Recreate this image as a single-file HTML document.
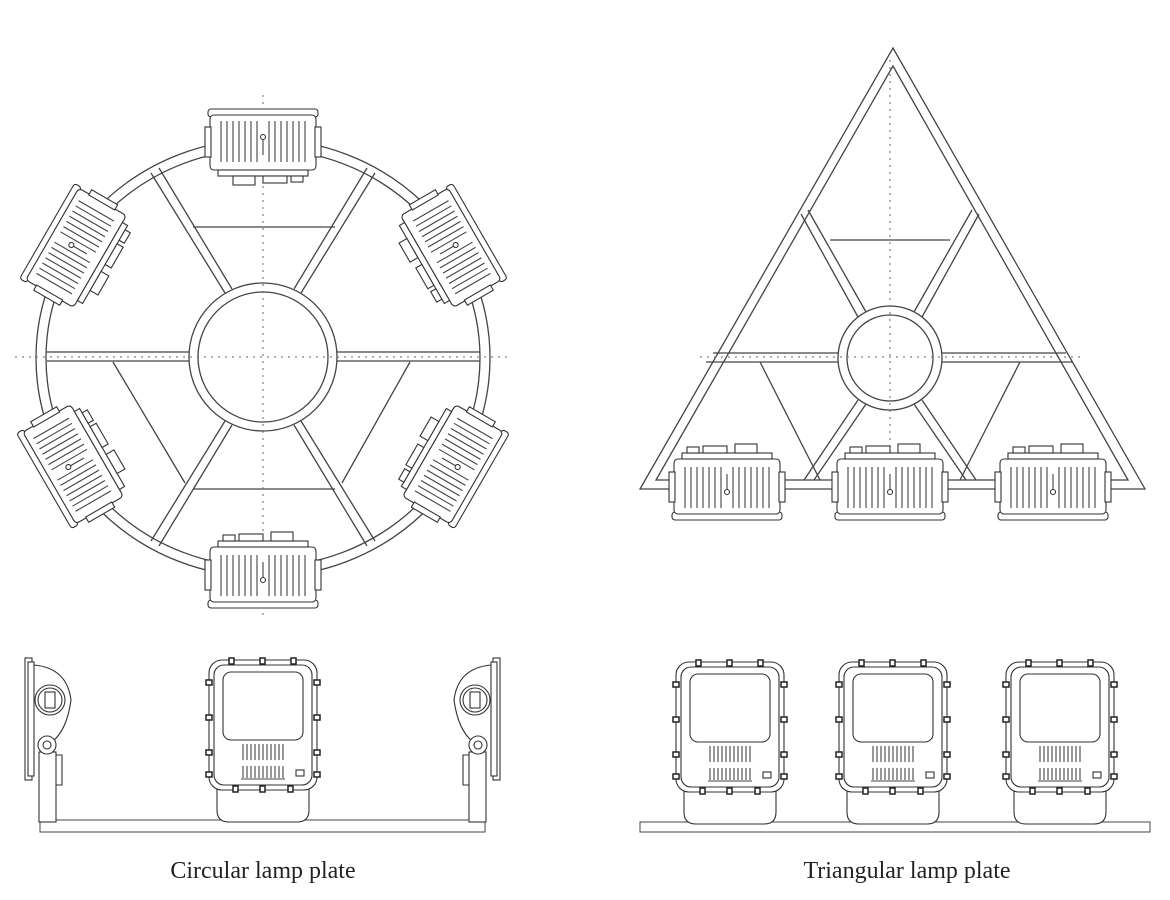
<!DOCTYPE html>
<html><head><meta charset="utf-8"><style>
html,body{margin:0;padding:0;background:#fff;}
svg{display:block;}
text{font-family:"Liberation Serif",serif;font-size:24px;fill:#222;}
</style></head><body>
<svg width="1170" height="900" viewBox="0 0 1170 900" xmlns="http://www.w3.org/2000/svg">
<defs>
<g id="top" fill="#fff" stroke="#333" stroke-width="1.1">
  <rect x="-55" y="-38" width="110" height="8" rx="3"/>
  <rect x="-53" y="-32" width="106" height="55" rx="4"/>
  <rect x="-58" y="-20" width="6" height="30"/>
  <rect x="52" y="-20" width="6" height="30"/>
  <g stroke="#444">
    <path d="M-42 -26V15M-36 -26V15M-30 -26V15M-24 -26V15M-18 -26V15M-12 -26V15M-6 -26V15M6 -26V15M12 -26V15M18 -26V15M24 -26V15M30 -26V15M36 -26V15M42 -26V15"/>
  </g>
  <path d="M0 -10V8" stroke="#444"/>
  <circle cx="0" cy="-10" r="2.5"/>
  <rect x="-45" y="23" width="90" height="6"/>
  <rect x="-30" y="29" width="22" height="9"/>
  <rect x="0" y="29" width="24" height="7"/>
  <rect x="28" y="29" width="12" height="6"/>
</g>
<g id="front" fill="#fff" stroke="#333" stroke-width="1.1">
  <path d="M-46 95V150Q-46 162 -34 162H34Q46 162 46 150V95"/>
  <rect x="-54" y="0" width="108" height="130" rx="13"/>
  <rect x="-49" y="5" width="98" height="120" rx="10"/>
  <rect x="-40" y="12" width="80" height="68" rx="8"/>
  <g stroke="#444">
    <path d="M-20 84V100M-16 84V100M-12 84V100M-8 84V100M-4 84V100M0 84V100M4 84V100M8 84V100M12 84V100M16 84V100M20 84V100"/>
    <path d="M-20 106V118M-16 106V118M-12 106V118M-8 106V118M-4 106V118M0 106V118M4 106V118M8 106V118M12 106V118M16 106V118M20 106V118"/>
    <path d="M-22 119H22"/>
  </g>
  <g fill="#fff" stroke="#222" stroke-width="1.5">
    <rect x="-34" y="-2" width="5" height="6"/><rect x="-3" y="-2" width="5" height="6"/><rect x="28" y="-2" width="5" height="6"/>
    <rect x="-57" y="20" width="6" height="5"/><rect x="-57" y="55" width="6" height="5"/><rect x="-57" y="90" width="6" height="5"/><rect x="-57" y="112" width="6" height="5"/>
    <rect x="51" y="20" width="6" height="5"/><rect x="51" y="55" width="6" height="5"/><rect x="51" y="90" width="6" height="5"/><rect x="51" y="112" width="6" height="5"/>
    <rect x="-30" y="126" width="5" height="6"/><rect x="-3" y="126" width="5" height="6"/><rect x="25" y="126" width="5" height="6"/>
  </g>
  <rect x="33" y="110" width="8" height="6"/>
</g>
<g id="side" fill="#fff" stroke="#333" stroke-width="1.1">
  <rect x="14" y="752" width="17" height="70"/>
  <path d="M9 665Q42 668 46 700Q42 730 27 742" fill="none"/>
  <rect x="0" y="658" width="7" height="122"/>
  <rect x="3" y="662" width="6" height="114"/>
  <circle cx="25" cy="700" r="15"/><circle cx="25" cy="700" r="12"/>
  <rect x="20" y="692" width="10" height="16"/>
  <circle cx="22" cy="745" r="9"/><circle cx="22" cy="745" r="4"/>
  <path d="M31 755H37V785H31" fill="none"/>
</g>
</defs>

<g fill="none" stroke="#444" stroke-width="1.3">
  <ellipse cx="263" cy="358" rx="227" ry="219"/>
  <ellipse cx="263" cy="358" rx="217" ry="209"/>
  <circle cx="263" cy="357" r="74"/>
  <circle cx="263" cy="357" r="65"/>
  <path d="M47 352H189M47 361H189M337 352H480M337 361H480"/>
  <path d="M225 293L151 173M232 289L159 168M301 293L375 173M294 289L367 168"/>
  <path d="M225 421L151 541M232 425L159 546M301 421L375 541M294 425L367 546"/>
  <path d="M193 227H335M193 489H335"/>
  <path d="M113 362L185 483M410 362L342 483"/>
</g>
<g stroke="#666" stroke-width="1" stroke-dasharray="2 5" fill="none">
  <path d="M263 95V620M15 357H510"/>
</g>
<use href="#top" transform="translate(263,147)"/>
<use href="#top" transform="translate(447,250) rotate(60)"/>
<use href="#top" transform="translate(449,462) rotate(120)"/>
<use href="#top" transform="translate(263,570) rotate(180)"/>
<use href="#top" transform="translate(77,462) rotate(240)"/>
<use href="#top" transform="translate(80,250) rotate(300)"/>

<g fill="none" stroke="#444" stroke-width="1.3">
  <path d="M893 48L1145 489H640Z"/>
  <path d="M893 66L1128 480H656Z"/>
  <circle cx="890" cy="358" r="52"/>
  <circle cx="890" cy="358" r="43"/>
  <path d="M713 353H838M706 362H838M942 353H1066M942 362H1073"/>
  <path d="M866 312L808 210M858 317L801 214M914 312L972 210M922 317L979 214"/>
  <path d="M866 404L814 480M858 400L804 480M914 404L966 480M922 400L976 480"/>
  <path d="M830 240H950M760 362L820 480M1020 362L960 480"/>
</g>
<g stroke="#666" stroke-width="1" stroke-dasharray="2 5" fill="none">
  <path d="M890 60V520M700 357H1080"/>
</g>
<use href="#top" transform="translate(727,482) rotate(180)"/>
<use href="#top" transform="translate(890,482) rotate(180)"/>
<use href="#top" transform="translate(1053,482) rotate(180)"/>

<rect x="40" y="820" width="445" height="12" fill="#fff" stroke="#444"/>
<use href="#side" transform="translate(25,0)"/>
<use href="#side" transform="translate(500,0) scale(-1,1)"/>
<use href="#front" transform="translate(263,660)"/>
<rect x="640" y="822" width="510" height="10" fill="#fff" stroke="#444"/>
<use href="#front" transform="translate(730,662)"/>
<use href="#front" transform="translate(893,662)"/>
<use href="#front" transform="translate(1060,662)"/>

<text x="263" y="878" text-anchor="middle">Circular lamp plate</text>
<text x="907" y="878" text-anchor="middle">Triangular lamp plate</text>
</svg>
</body></html>
